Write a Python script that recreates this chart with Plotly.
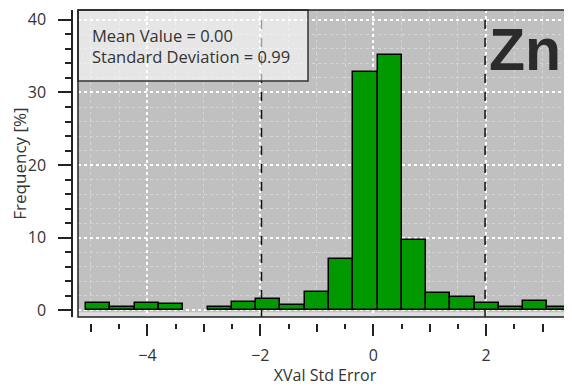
import plotly.graph_objects as go

# ---- data ----
bin_centers = [-4.87, -4.44, -4.01, -3.58, -3.15, -2.72, -2.29, -1.86, -1.43, -1.00,
               -0.57, -0.14, 0.29, 0.72, 1.15, 1.58, 2.01, 2.44, 2.87, 3.30]
frequency = [1.05, 0.41, 1.05, 0.83, None, 0.41, 1.18, 1.52, 0.73, 2.56,
             7.07, 32.8, 35.2, 9.68, 2.34, 1.87, 0.96, 0.41, 1.28, 0.41]
bin_width = 0.43
mean_value = 0.00
std_dev = 0.99
x_major_ticks = [-4, -2, 0, 2]
x_mid_ticks = [-5, -3, -1, 1, 3]
element = "Zn"

FONT = "Open Sans"
TXT = "#333333"

fig = go.Figure()
fig.add_trace(go.Bar(
    x=bin_centers, y=frequency, width=bin_width,
    marker=dict(color="#009900", line=dict(color="black", width=1.5)),
    hoverinfo="skip", showlegend=False,
))
# helper trace so the overlay axis (odd-integer ticks) is drawn
fig.add_trace(go.Scatter(
    x=bin_centers, y=frequency, xaxis="x2", mode="lines",
    line=dict(width=0), hoverinfo="skip", showlegend=False,
))

xr = [-5.23, 3.52]
yr = [-0.92, 41.36]

# the page body adds an 8px offset, so the figure is 8px smaller
fig.update_layout(
    width=564, height=378,
    margin=dict(l=64, r=0, t=2, b=63),
    paper_bgcolor="white",
    plot_bgcolor="#c0c0c0",
    bargap=0,
    font=dict(family=FONT, size=15, color=TXT),
    xaxis=dict(
        domain=[6 / 500, 1], range=xr, anchor="free", position=0,
        tickvals=x_major_ticks, ticks="outside", ticklen=12, tickwidth=1.5,
        tickcolor="#222", ticklabelstandoff=6,
        showline=False, zeroline=False,
        showgrid=True, gridcolor="white", griddash="dot", gridwidth=1.5,
        minor=dict(dtick=0.5, tick0=0, ticks="outside", ticklen=5, tickwidth=1.5,
                   tickcolor="#222", showgrid=True, gridcolor="#d6d6d6",
                   griddash="dot", gridwidth=1),
        title=dict(text="XVal Std Error", font=dict(size=16), standoff=1),
        tickfont=dict(size=16),
    ),
    xaxis2=dict(
        domain=[6 / 500, 1], range=xr, overlaying="x", anchor="free", position=0,
        tickvals=x_mid_ticks, ticks="outside", ticklen=8, tickwidth=1.5,
        tickcolor="#222", showticklabels=False, showgrid=False, zeroline=False,
        showline=False,
    ),
    yaxis=dict(
        domain=[6 / 313, 1], range=yr, anchor="free", position=0,
        dtick=10, tick0=0, ticks="outside", ticklen=13, tickwidth=1.5,
        tickcolor="#222", ticklabelstandoff=9,
        showline=True, linecolor="#222", linewidth=1.5,
        zeroline=False,
        showgrid=True, gridcolor="white", griddash="dot", gridwidth=1.5,
        minor=dict(dtick=2, tick0=0, ticks="outside", ticklen=6, tickwidth=1.5,
                   tickcolor="#222", showgrid=True, gridcolor="#d6d6d6",
                   griddash="dot", gridwidth=1),
        title=dict(text="Frequency [%]", font=dict(size=17), standoff=2),
        tickfont=dict(size=16),
    ),
)

shapes = []
# lighter strip under the zero line
shapes.append(dict(type="rect", xref="x domain", yref="y", x0=0, x1=1,
                   y0=yr[0], y1=-0.25, fillcolor="#dedede",
                   line=dict(width=0), layer="below"))
# +/- 2 sigma dashed lines
for k in (-2, 2):
    xv = mean_value + k * std_dev
    shapes.append(dict(type="line", xref="x", yref="y domain", x0=xv, x1=xv,
                       y0=0, y1=1, line=dict(color="#111", width=1.5, dash="dash"),
                       layer="above"))
# legend box
shapes.append(dict(type="rect", xref="x domain", yref="y domain",
                   x0=0, x1=(308 - 78) / 494, y0=1 - (81 - 10) / 307, y1=1,
                   fillcolor="rgba(255,255,255,0.6)",
                   line=dict(color="#333", width=1.5), layer="above"))
# plot frame
shapes.append(dict(type="rect", xref="x domain", yref="y domain",
                   x0=0, x1=1, y0=0, y1=1, line=dict(color="#222", width=1.5),
                   layer="above"))
fig.update_layout(shapes=shapes)

fig.add_annotation(
    xref="x domain", yref="y domain", x=(90 - 78) / 494, y=1 - (22 - 10) / 307,
    xanchor="left", yanchor="top", align="left", showarrow=False,
    text=f"Mean Value = {mean_value:.2f}<br>Standard Deviation = {std_dev:.2f}",
    font=dict(family=FONT, size=16.5, color=TXT),
)
fig.add_annotation(
    xref="x domain", yref="y domain", x=(487 - 78) / 494, y=1 - (50 - 10) / 307,
    xanchor="left", yanchor="middle", showarrow=False,
    text=f"<b>{element}</b>",
    font=dict(family="Liberation Sans", size=59, color="#2b2b2b"),
)

fig.write_html("out.html")
